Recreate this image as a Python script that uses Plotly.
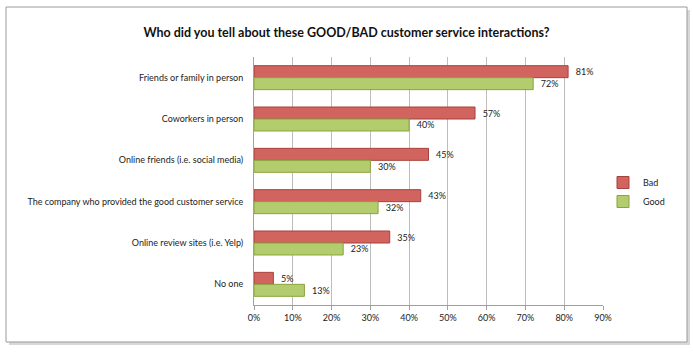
import plotly.graph_objects as go

categories = ["Friends or family in person", "Coworkers in person", "Online friends (i.e. social media)",
              "The company who provided the good customer service", "Online review sites (i.e. Yelp)", "No one"]
bad = [81, 57, 45, 43, 35, 5]
good = [72, 40, 30, 32, 23, 13]
x_ticks = [0, 10, 20, 30, 40, 50, 60, 70, 80, 90]

FONT = "Lato"

fig = go.Figure()
fig.add_trace(go.Bar(name="Bad", y=categories, x=bad, orientation="h",
                     marker=dict(color="#d2645f", line=dict(color="#a8413d", width=1)),
                     text=[f"  {v}%" for v in bad], textposition="outside", cliponaxis=False,
                     textfont=dict(family=FONT, size=9, color="#222")))
fig.add_trace(go.Bar(name="Good", y=categories, x=good, orientation="h",
                     marker=dict(color="#b3cd6e", line=dict(color="#8aa33f", width=1)),
                     text=[f"  {v}%" for v in good], textposition="outside", cliponaxis=False,
                     textfont=dict(family=FONT, size=9, color="#222")))

L, R, T, B = 254, 603, 57, 305
W, H = R - L, B - T
def px(x): return (x - L) / W
def py(y): return (B - y) / H

fig.update_layout(
    width=693, height=354,
    margin=dict(l=L, r=693 - R, t=T, b=354 - B),
    paper_bgcolor="white", plot_bgcolor="#f7f7f7",
    barmode="group", bargap=0.42, bargroupgap=0.0,
    font=dict(family=FONT, size=9, color="#222"),
    title=dict(text="<b>Who did you tell about these GOOD/BAD customer service interactions?</b>",
               x=0.5, xanchor="center", y=1 - 33 / 354, yanchor="middle",
               font=dict(family=FONT, size=12.5, color="#111")),
    xaxis=dict(range=[0, 90], tickvals=x_ticks, ticktext=[f"{v}%" for v in x_ticks],
               showgrid=True, gridcolor="#bdbdbd", gridwidth=1, zeroline=False,
               showline=True, linecolor="#a0a0a0", ticks="outside", ticklen=4, tickcolor="#a0a0a0",
               tickfont=dict(family=FONT, size=9, color="#222"), fixedrange=True),
    yaxis=dict(autorange="reversed", showline=True, linecolor="#a0a0a0", ticks="",
               ticklabelstandoff=8, tickfont=dict(family=FONT, size=9, color="#222"), fixedrange=True),
    legend=dict(x=px(603), y=py(168), xanchor="left", yanchor="top",
                font=dict(family=FONT, size=9, color="#222"), bgcolor="rgba(0,0,0,0)",
                itemwidth=30, tracegroupgap=4),
    showlegend=True,
)

# chart frame with shadow
fig.add_shape(type="rect", xref="paper", yref="paper",
              x0=px(9), x1=px(690), y0=py(345), y1=py(10),
              line=dict(width=0), fillcolor="#d8d8d8", layer="below")
fig.add_shape(type="rect", xref="paper", yref="paper",
              x0=px(6), x1=px(687), y0=py(342), y1=py(7),
              line=dict(color="#9a9a9a", width=1), fillcolor="white", layer="below")

fig.write_html("out.html")
